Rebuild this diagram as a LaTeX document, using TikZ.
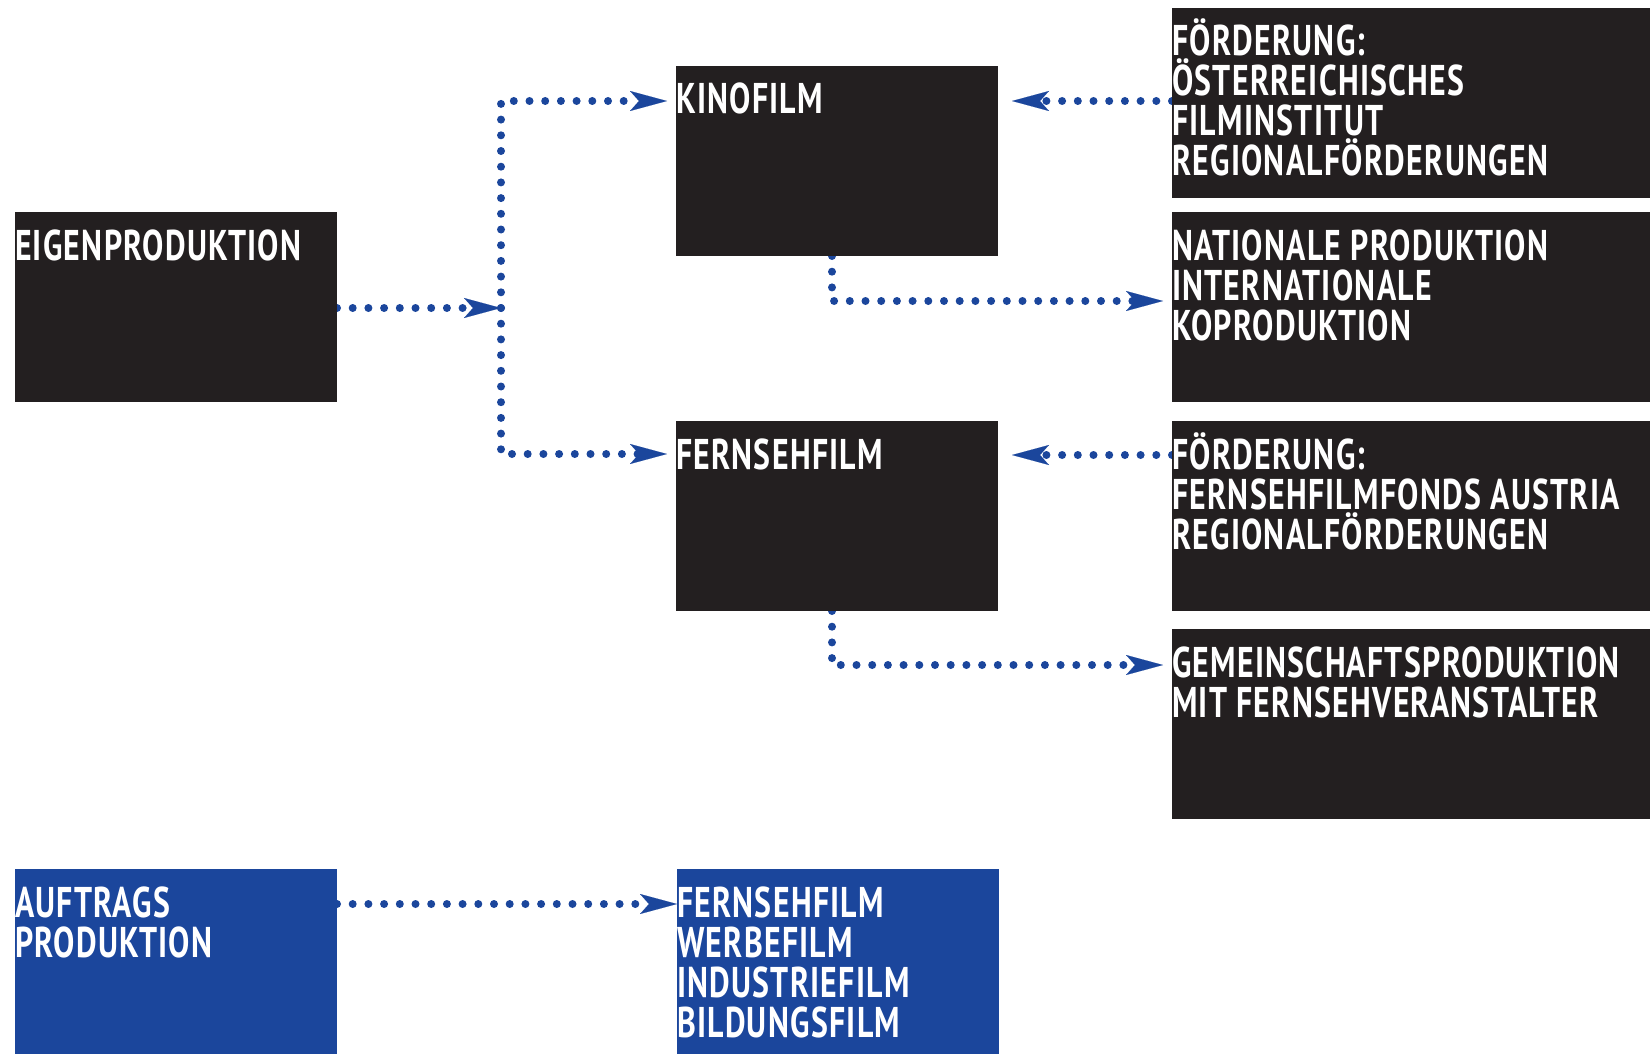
\documentclass[tikz,border=0pt]{standalone}
\usepackage{fontspec}
\newfontfamily\cond{PT Sans}[FakeStretch=0.74,LetterSpace=3]
\usetikzlibrary{arrows.meta,backgrounds}
\definecolor{boxdark}{RGB}{35,31,32}
\definecolor{boxblue}{RGB}{27,70,156}
\tikzset{
  boxbase/.style={anchor=north west, inner sep=0pt, outer sep=0pt, draw=none},
  dbox/.style={boxbase, fill=boxdark, minimum width=322pt, minimum height=190pt},
  wbox/.style={boxbase, fill=boxdark, minimum width=478pt, minimum height=190pt},
  bbox/.style={boxbase, fill=boxblue, minimum width=322pt, minimum height=185pt},
  txt/.style={anchor=base west, inner sep=0pt, outer sep=0pt, text=white,
    font=\cond\bfseries\fontsize{43}{40}\selectfont},
  conn/.style={draw=boxblue, line width=8pt, line cap=round,
    dash pattern=on 0pt off 15.7pt,
    -{Stealth[length=37pt,width=20pt,inset=9pt,line width=0.1pt]}}
}
\newcommand{\lines}[1]{\parbox[t]{470pt}{\raggedright #1}}
\begin{document}
\begin{tikzpicture}[x=1pt,y=-1pt]
\useasboundingbox (0,0) rectangle (1650,1054);
% boxes
\node[dbox] (eig) at (15,212) {};
\node[dbox] (kino) at (676,66) {};
\node[dbox] (fern) at (676,421) {};
\node[wbox] (b1) at (1172,8) {};
\node[wbox] (b2) at (1172,212) {};
\node[wbox] (b3) at (1172,421) {};
\node[wbox] (b4) at (1172,629) {};
\node[bbox] (auf) at (15,869) {};
\node[bbox] (typ) at (677,869) {};
% texts
\node[txt] (teig) at ([yshift=-48pt]eig.north west) {EIGENPRODUKTION};
\node[txt] (tkino) at ([yshift=-48pt]kino.north west) {KINOFILM};
\node[txt] (tfern) at ([yshift=-48pt]fern.north west) {FERNSEHFILM};
\node[txt] (tb1) at ([yshift=-48pt]b1.north west) {\lines{FÖRDERUNG:\\ÖSTERREICHISCHES\\FILMINSTITUT\\REGIONALFÖRDERUNGEN}};
\node[txt] (tb2) at ([yshift=-48pt]b2.north west) {\lines{NATIONALE PRODUKTION\\INTERNATIONALE\\KOPRODUKTION}};
\node[txt] (tb3) at ([yshift=-48pt]b3.north west) {\lines{FÖRDERUNG:\\FERNSEHFILMFONDS AUSTRIA\\REGIONALFÖRDERUNGEN}};
\node[txt] (tb4) at ([yshift=-48pt]b4.north west) {\lines{GEMEINSCHAFTSPRODUKTION\\MIT FERNSEHVERANSTALTER}};
\node[txt] (tauf) at ([yshift=-48pt]auf.north west) {\lines{AUFTRAGS\\PRODUKTION}};
\node[txt] (ttyp) at ([yshift=-48pt]typ.north west) {\lines{FERNSEHFILM\\WERBEFILM\\INDUSTRIEFILM\\BILDUNGSFILM}};
% connectors
\coordinate (jn) at (501,308);
\begin{pgfonlayer}{background}
\draw[conn] ([yshift=-96pt]eig.north east) -- (jn);
\draw[conn, shorten >=9pt] (jn) |- ([yshift=-35pt]kino.north west);
\draw[conn, shorten >=9pt] (jn) |- ([yshift=-33pt]fern.north west);
\draw[conn, shorten >=9pt] ([xshift=-5pt]kino.south) |- ([yshift=-89pt]b2.north west);
\draw[conn, shorten >=9pt] ([xshift=-5pt]fern.south) |- ([yshift=-36pt]b4.north west);
\draw[conn, shorten >=14pt] ([yshift=-93pt]b1.north west) -- ([yshift=-93pt]b1.north west -| kino.east);
\draw[conn, shorten >=14pt] ([yshift=-34pt]b3.north west) -- ([yshift=-34pt]b3.north west -| fern.east);
\draw[conn] ([yshift=-35pt]auf.north east) -- ([yshift=-35pt]typ.north west);
\end{pgfonlayer}
\end{tikzpicture}
\end{document}
